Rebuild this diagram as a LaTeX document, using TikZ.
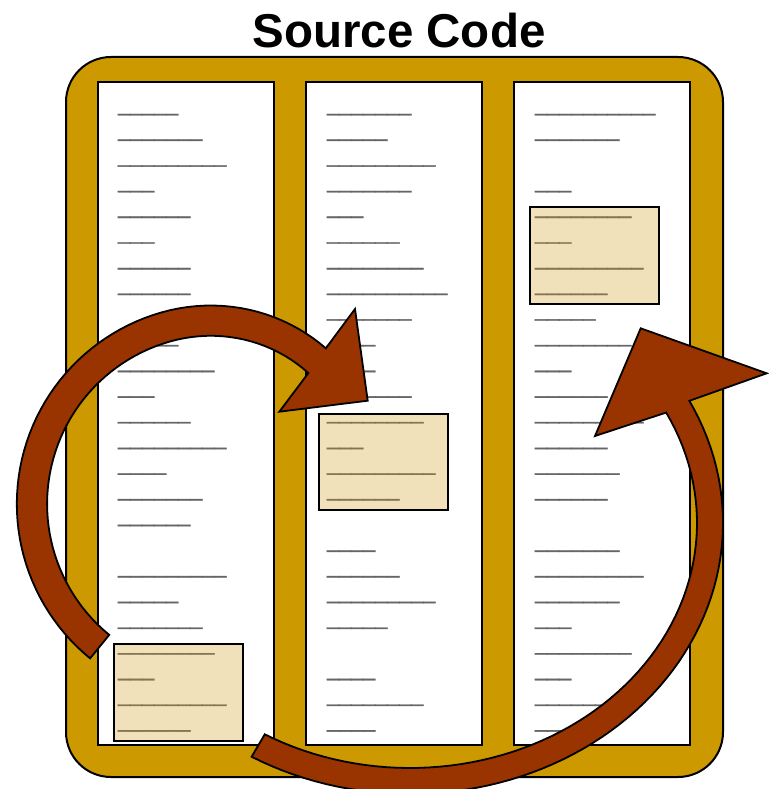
\documentclass[tikz,border=0pt]{standalone}
\usepackage{fontspec}
\setmainfont{Liberation Sans}
\newfontfamily\codefont[FakeBold=1.5]{Liberation Sans}
\definecolor{framegold}{HTML}{CC9900}
\definecolor{arrowbrown}{HTML}{993300}
\definecolor{hilitetan}{HTML}{F0E1BB}
\definecolor{codegray}{HTML}{666666}
\definecolor{codeolive}{HTML}{857552}
\newcommand\codeunderscores[1]{\foreach \i in {1,...,#1}{\_}}
\tikzset{
  outerframe/.style={fill=framegold, draw=black, line width=2bp, rounded corners=45bp},
  panel/.style={fill=white, draw=black, line width=2bp},
  hilite/.style={fill=hilitetan, draw=black, line width=2bp},
  codeline/.style={anchor=base west, inner sep=0pt, text=codegray,
    font=\codefont\fontsize{21.6bp}{24bp}\selectfont},
  boxline/.style={codeline, text=codeolive},
  bigarrow/.style={fill=arrowbrown, draw=black, line width=1.8bp, line join=miter},
  title/.style={font=\fontsize{47.5bp}{52bp}\selectfont\bfseries, anchor=base, inner sep=0pt}
}
\begin{document}
\begin{tikzpicture}[x=1bp, y=-1bp]
\useasboundingbox (0,0) rectangle (769,789);

% heading
\node[title] (heading) at (399,47.7) {Source Code};

% gold frame and the three source columns
\draw[outerframe] (66,57) rectangle (723,777);
\draw[panel] (98,82) rectangle (274,745);
\draw[panel] (306,82) rectangle (482,745);
\draw[panel] (514,82) rectangle (690,745);

% highlighted blocks
\draw[hilite] (114,644) rectangle (243,741);
\draw[hilite] (319,414) rectangle (448,510);
\draw[hilite] (530,207) rectangle (659,304);

% code lines: row index / number of underscores
\foreach \k/\n in {0/5,1/7,2/9,3/3,4/6,5/3,6/6,7/6,9/5,10/8,11/3,12/6,13/9,14/4,15/7,16/6,18/9,19/5,20/7}
  \node[codeline] (a\k) at (118,{114.3+25.68*\k-3.3}) {\codeunderscores{\n}};
\foreach \k/\n in {21/8,22/3,23/9,24/6}
  \node[boxline] (a\k) at (118,{114.3+25.68*\k-3.3}) {\codeunderscores{\n}};
\foreach \k/\n in {0/7,1/5,2/9,3/7,4/3,5/6,6/8,7/10,8/7,9/4,10/4,11/7,17/4,18/6,19/9,20/5,22/4,23/8,24/4}
  \node[codeline] (b\k) at (327,{114.3+25.68*\k-3.3}) {\codeunderscores{\n}};
\foreach \k/\n in {12/8,13/3,14/9,15/6}
  \node[boxline] (b\k) at (327,{114.3+25.68*\k-3.3}) {\codeunderscores{\n}};
\foreach \k/\n in {0/10,1/7,3/3,8/5,9/8,10/3,11/6,12/9,13/6,14/7,15/6,17/7,18/9,19/7,20/3,21/8,22/3,23/6,24/5}
  \node[codeline] (c\k) at (535,{114.3+25.68*\k-3.3}) {\codeunderscores{\n}};
\foreach \k/\n in {4/8,5/3,6/9,7/6}
  \node[boxline] (c\k) at (535,{114.3+25.68*\k-3.3}) {\codeunderscores{\n}};

% left circular arrow: from the bottom of column one over to column two
\draw[bigarrow]
  plot[domain=129.2:305.2, samples=70, variable=\t]
    ({216+(199.2-8.6*(max(0,\t-255)/50)^2)*cos(\t)},
     {504+(199.2-8.6*(max(0,\t-255)/50)^2)*sin(\t)})
  -- (355,309) -- (367.7,400.7) -- (279.3,411.7)
  -- plot[domain=305.2:129.2, samples=70, variable=\t]
    ({216+(168.9-8.6*(max(0,\t-255)/50)^2)*cos(\t)},
     {504+(168.9-8.6*(max(0,\t-255)/50)^2)*sin(\t)})
  -- cycle;

% right arrow: an elliptical band along the bottom and up into column three
\draw[bigarrow]
  plot[domain=120.4:-26.8, samples=70, variable=\t]
    ({410+313*cos(\t)}, {523+271*sin(\t)})
  -- (766.7,373.3) -- (640.7,328.3) -- (595,436)
  -- plot[domain=-26.8:120.4, samples=70, variable=\t]
    ({410+287*cos(\t)}, {523+245*sin(\t)})
  -- cycle;
\end{tikzpicture}
\end{document}
